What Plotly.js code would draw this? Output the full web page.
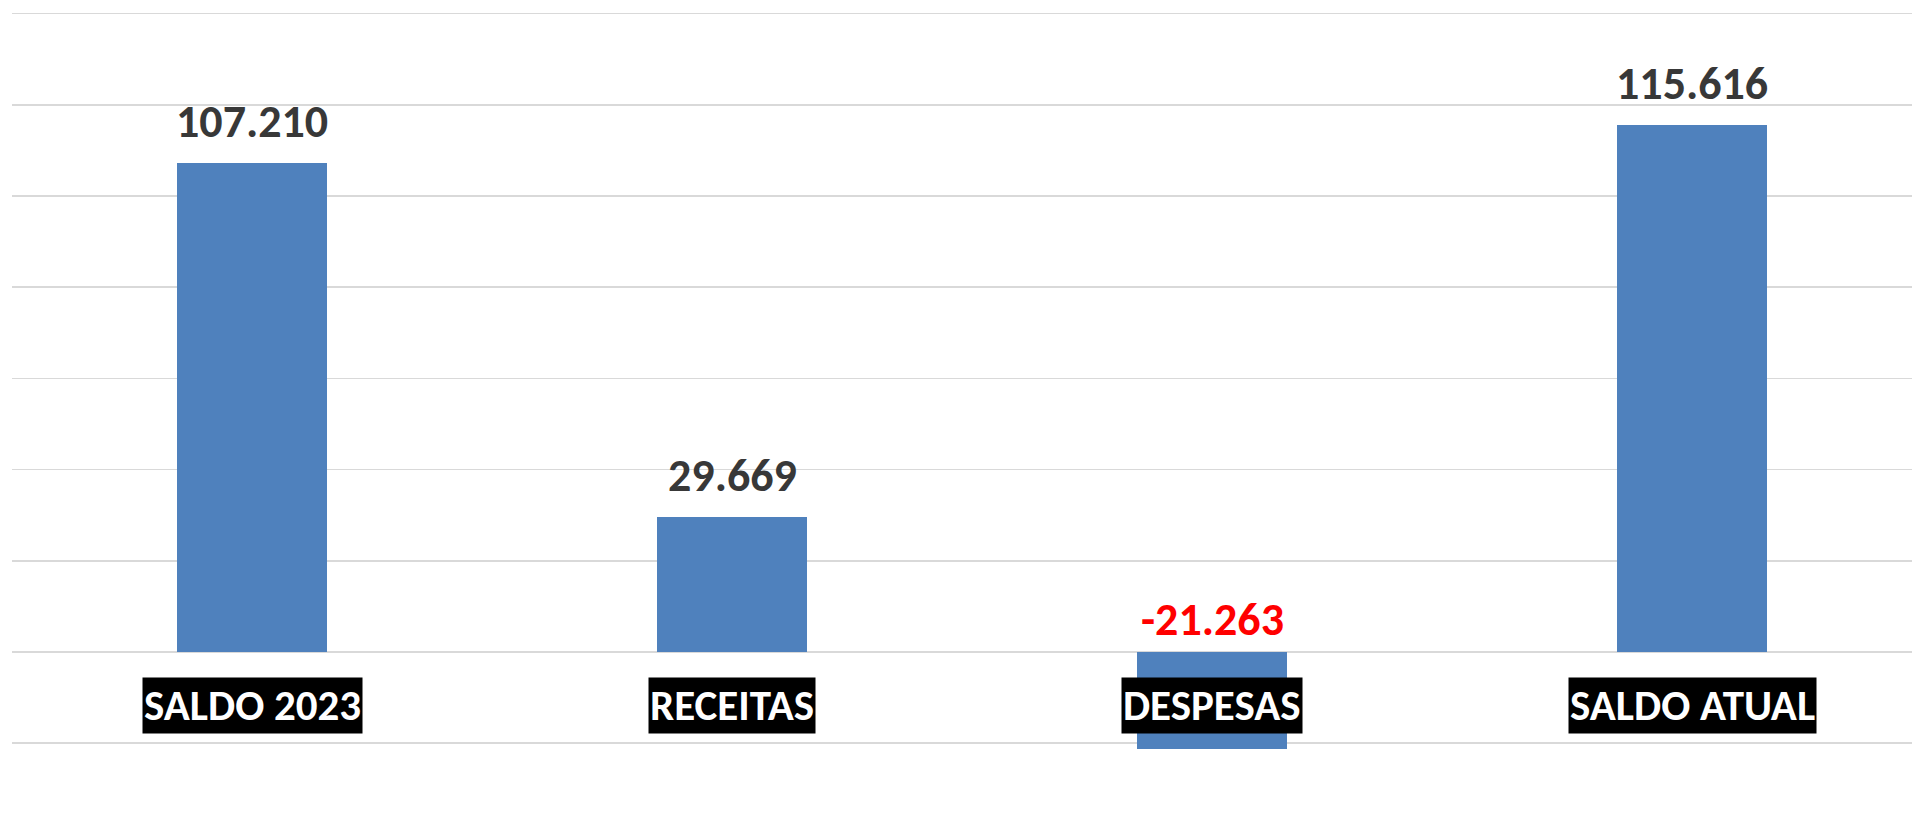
<!DOCTYPE html>
<html>
<head>
<meta charset="utf-8">
<script src="https://cdn.plot.ly/plotly-3.0.1.min.js"></script>
<style>
html,body{margin:0;padding:0;background:#fff;}
#chart{width:1912px;height:829px;}
</style>
</head>
<body>
<div id="chart"></div>
<script>
// Data
var categories = ["SALDO 2023", "RECEITAS", "DESPESAS", "SALDO ATUAL"];
var values = [107210, 29669, -21263, 115616];
var gridTicks = [-20000, 0, 20000, 40000, 60000, 80000, 100000, 120000, 140000];

function fmt(v) {
  var s = Math.abs(Math.round(v)).toString().replace(/\B(?=(\d{3})+(?!\d))/g, ".");
  return (v < 0 ? "-" : "") + s;
}

var FONT = "Carlito, Lato, 'Open Sans', sans-serif";

var trace = {
  type: "bar",
  x: categories,
  y: values,
  width: 0.3125,
  marker: {color: "#4F81BD", line: {width: 0}},
  hoverinfo: "x+y"
};

var annotations = [];
categories.forEach(function (c, i) {
  var v = values[i];
  annotations.push({
    x: c, y: Math.max(v, 0), xref: "x", yref: "y",
    text: fmt(v),
    showarrow: false, yanchor: "bottom", xanchor: "center",
    yshift: v < 0 ? 3 : 12,
    font: {family: FONT, size: 46, weight: 900, color: v < 0 ? "#FF0000" : "#383838"}
  });
  annotations.push({
    x: c, y: 0.1484, xref: "x", yref: "paper",
    text: c,
    showarrow: false, yanchor: "middle", xanchor: "center",
    bgcolor: "#000000", borderpad: 1,
    font: {family: FONT, size: 43, weight: 900, color: "#FFFFFF"}
  });
});

var layout = {
  width: 1912, height: 829,
  margin: {l: 12, r: 0, t: 0, b: 0, pad: 0},
  paper_bgcolor: "#FFFFFF", plot_bgcolor: "#FFFFFF",
  showlegend: false,
  bargap: 0,
  xaxis: {
    type: "category",
    range: [-0.5, 3.458],
    showticklabels: false, showgrid: false, zeroline: false,
    showline: false, ticks: ""
  },
  yaxis: {
    range: [-38816, 142984],
    tickmode: "array", tickvals: gridTicks,
    showticklabels: false, showgrid: true,
    gridcolor: "#D9D9D9", gridwidth: 1.6,
    zeroline: false, showline: false, ticks: ""
  },
  annotations: annotations
};

Plotly.newPlot("chart", [trace], layout, {displayModeBar: false, staticPlot: true});
</script>
</body>
</html>
